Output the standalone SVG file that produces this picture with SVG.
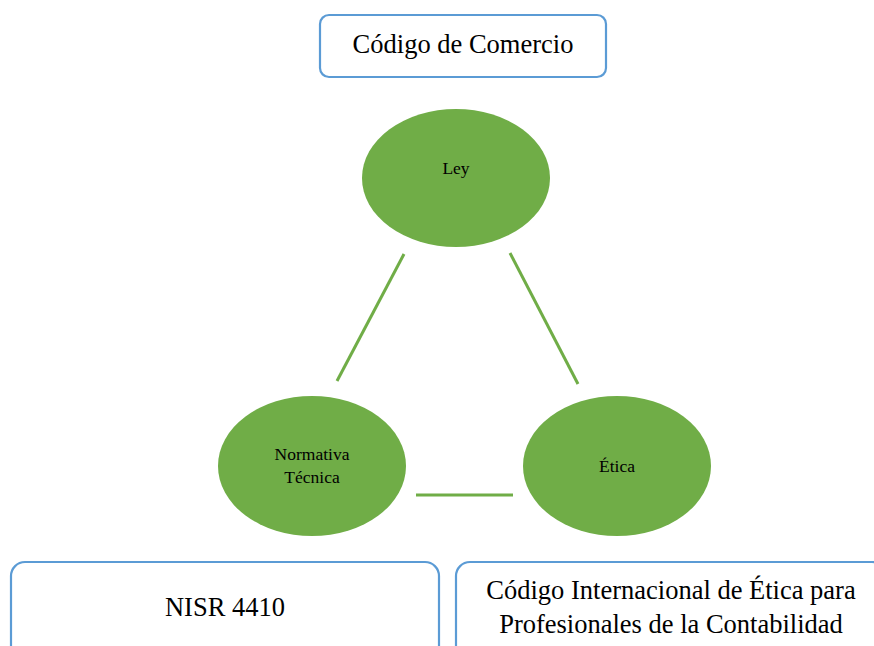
<svg xmlns="http://www.w3.org/2000/svg" width="874" height="646" viewBox="0 0 874 646">
<style>
.box{fill:#fff;stroke:#5B9BD5;stroke-width:2.2}
.node{fill:#70AD47}
.conn{stroke:#70AD47;stroke-width:3;fill:none}
.big{font-family:'Liberation Serif','Times New Roman','DejaVu Serif',serif;font-size:26.5px;fill:#000;text-anchor:middle}
.small{font-family:'Liberation Serif','Times New Roman','DejaVu Serif',serif;font-size:17.5px;fill:#000;text-anchor:middle}
</style>
<rect width="874" height="646" fill="#fff"/>
<g id="codigo-comercio"><rect class="box" x="320" y="15" width="286" height="62" rx="9"/><text class="big" x="463" y="53">Código de Comercio</text></g>
<g id="connectors">
<line class="conn" x1="404" y1="254" x2="337" y2="381"/>
<line class="conn" x1="510" y1="253" x2="578" y2="384"/>
<line class="conn" x1="416" y1="495" x2="513" y2="495"/>
</g>
<g id="ley"><ellipse class="node" cx="456" cy="178" rx="94" ry="69"/><text class="small" x="456" y="174">Ley</text></g>
<g id="normativa"><ellipse class="node" cx="312" cy="466" rx="94" ry="70"/><text class="small" x="312" y="460">Normativa</text><text class="small" x="312" y="483">Técnica</text></g>
<g id="etica"><ellipse class="node" cx="617" cy="466" rx="94" ry="70"/><text class="small" x="617" y="472">Ética</text></g>
<g id="nisr"><rect class="box" x="11" y="562" width="428" height="100" rx="14"/><text class="big" x="225" y="616">NISR 4410</text></g>
<g id="codigo-etica"><rect class="box" x="456" y="562" width="430" height="100" rx="14"/><text class="big" x="671" y="599">Código Internacional de Ética para</text><text class="big" x="671" y="633">Profesionales de la Contabilidad</text></g>
</svg>
